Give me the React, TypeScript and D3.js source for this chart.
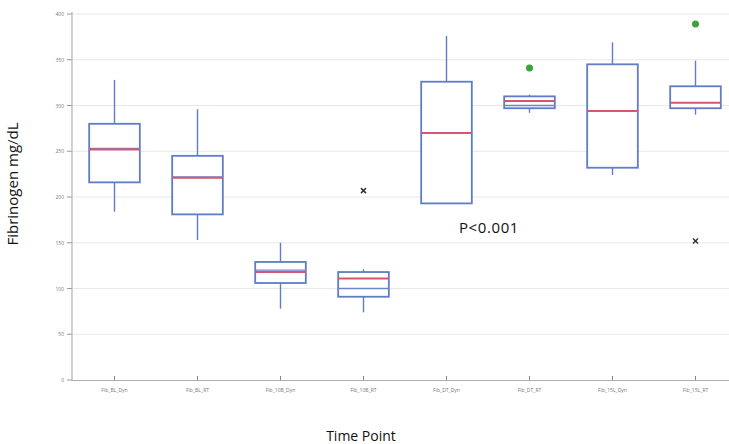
import React from "react";
import * as d3 from "d3";

const categories = [
  "Fib_BL_Dyn",
  "Fib_BL_RT",
  "Fib_10B_Dyn",
  "Fib_10B_RT",
  "Fib_DT_Dyn",
  "Fib_DT_RT",
  "Fib_15L_Dyn",
  "Fib_15L_RT",
];
const whiskerLow = [184, 153, 78, 74, 193, 292, 224, 290];
const q1 = [216, 181, 106, 91, 193, 297, 232, 297];
const median = [252, 221, 118, 111, 270, 305, 294, 303];
const q3 = [280, 245, 129, 118, 326, 310, 345, 321];
const whiskerHigh = [328, 296, 150, 121, 376, 312, 369, 349];
const mean = [253, 222, 120, 100, null, 300, null, null];
// outliers: [category index, value, kind]
const outlierIdx = [3, 5, 7, 7];
const outlierVal = [207, 341, 389, 152];
const outlierKind = ["x", "dot", "dot", "x"];
const yTicks = [0, 50, 100, 150, 200, 250, 300, 350, 400];

const W = 729;
const H = 444;

export default function App() {
  const x = d3.scaleBand<string>().domain(categories).range([73, 737]).paddingInner(0.39).paddingOuter(0.195);
  const y = d3.scaleLinear().domain([0, 400]).range([380, 14]);
  const bw = x.bandwidth();
  const cx = (i: number) => (x(categories[i]) as number) + bw / 2;
  const boxColor = "#5f7cc6";
  const medColor = "#d9546e";

  return (
    <svg width={W} height={H} style={{ position: "absolute", left: 0, top: 0, background: "#fff" }}
      fontFamily="'Open Sans', 'Liberation Sans', sans-serif">
      {yTicks.map((t) => (
        <g key={t}>
          {t > 0 && <line x1={73} x2={W} y1={y(t)} y2={y(t)} stroke="#e8e8e8" strokeWidth={1} />}
          <line x1={67} x2={72} y1={y(t)} y2={y(t)} stroke="#999" />
          <text x={64} y={y(t) + 2} fontSize={5} fill="#777" textAnchor="end">{t}</text>
        </g>
      ))}
      <line x1={72} x2={72} y1={12} y2={381} stroke="#b0b0b0" strokeWidth={1.2} />
      <line x1={72} x2={W} y1={380.5} y2={380.5} stroke="#b0b0b0" strokeWidth={1.2} />
      {categories.map((c, i) => (
        <g key={c}>
          <line x1={cx(i)} x2={cx(i)} y1={376} y2={380} stroke="#888" />
          <text x={cx(i)} y={392} fontSize={5} fill="#777" textAnchor="middle">{c}</text>
        </g>
      ))}
      {categories.map((c, i) => {
        const x0 = x(c) as number;
        return (
          <g key={"b" + c}>
            <line x1={cx(i)} x2={cx(i)} y1={y(whiskerHigh[i])} y2={y(q3[i])} stroke={boxColor} strokeWidth={1.4} />
            <line x1={cx(i)} x2={cx(i)} y1={y(q1[i])} y2={y(whiskerLow[i])} stroke={boxColor} strokeWidth={1.4} />
            <rect x={x0} y={y(q3[i])} width={bw} height={y(q1[i]) - y(q3[i])} fill="#fff" stroke={boxColor} strokeWidth={1.8} />
            {mean[i] !== null && (
              <line x1={x0} x2={x0 + bw} y1={y(mean[i] as number)} y2={y(mean[i] as number)} stroke="#6a86d0" strokeWidth={1.3} />
            )}
            <line x1={x0} x2={x0 + bw} y1={y(median[i])} y2={y(median[i])} stroke={medColor} strokeWidth={2} />
          </g>
        );
      })}
      {outlierIdx.map((ci, k) => {
        const px = cx(ci);
        const py = y(outlierVal[k]);
        return outlierKind[k] === "dot" ? (
          <circle key={"o" + k} cx={px} cy={py} r={3.5} fill="#3aa33a" />
        ) : (
          <g key={"o" + k} stroke="#333" strokeWidth={1.5}>
            <line x1={px - 2.5} x2={px + 2.5} y1={py - 2.5} y2={py + 2.5} />
            <line x1={px - 2.5} x2={px + 2.5} y1={py + 2.5} y2={py - 2.5} />
          </g>
        );
      })}
      <text x={489} y={233} fontSize={15} letterSpacing={0.6} fill="#111" textAnchor="middle">P&lt;0.001</text>
      <text transform={`translate(18,184) rotate(-90)`} fontSize={15} fill="#111" textAnchor="middle">Fibrinogen mg/dL</text>
      <text x={361} y={441} fontSize={14} fill="#111" textAnchor="middle">Time Point</text>
    </svg>
  );
}
